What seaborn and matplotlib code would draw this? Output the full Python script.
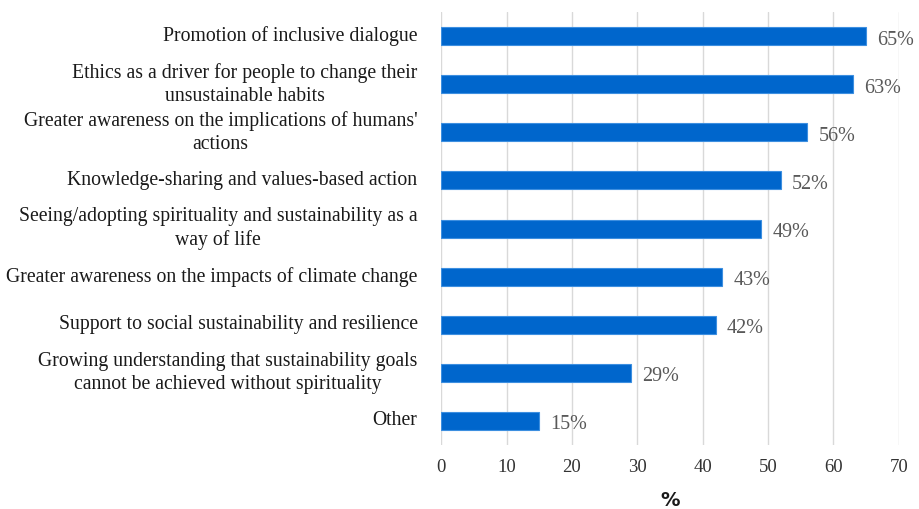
import matplotlib
matplotlib.use("Agg")
import matplotlib.pyplot as plt
import seaborn as sns
import pandas as pd

categories = [
    "Promotion of inclusive dialogue",
    "Ethics as a driver for people to change their\nunsustainable habits",
    "Greater awareness on the implications of humans'\nactions",
    "Knowledge-sharing and values-based action",
    "Seeing/adopting spirituality and sustainability as a\nway of life",
    "Greater awareness on the impacts of climate change",
    "Support to social sustainability and resilience",
    "Growing understanding that sustainability goals\ncannot be achieved without spirituality",
    "Other",
]
values = [65, 63, 56, 52, 49, 43, 42, 29, 15]
xticks = [0, 10, 20, 30, 40, 50, 60, 70]

df = pd.DataFrame({"cat": categories, "val": values})

sns.set_theme(style="white")
plt.rcParams["font.family"] = ["Liberation Serif", "DejaVu Serif"]

fig = plt.figure(figsize=(9.19, 5.09), dpi=100)
ax = fig.add_axes([0.480, 0.126, 0.498, 0.850])

sns.barplot(data=df, x="val", y="cat", orient="h", color="#0066CC",
            width=0.375, saturation=1, edgecolor="#3d8fe0", linewidth=0.8, ax=ax)

ax.set_xlim(0, 70)
ax.set_ylim(8.5, -0.5)
ax.set_xticks(xticks)
ax.set_xticklabels([str(t) for t in xticks], fontsize=13.5, color="#333333")
ax.set_yticklabels(categories, fontsize=14.2, color="#1a1a1a", ha="right",
                   va="center", multialignment="center", linespacing=1.32)
ax.tick_params(axis="y", length=0, pad=17)
ax.tick_params(axis="x", length=0, pad=10)
ax.grid(axis="x", color="#d9d9d9", linewidth=1)
ax.set_axisbelow(True)
for s in ax.spines.values():
    s.set_visible(False)

for i, v in enumerate(values):
    ax.annotate(f"{v}%", xy=(v, i), xytext=(8, -3), textcoords="offset points",
                ha="left", va="center", fontsize=14.5, color="#595959")

ax.set_ylabel("")
ax.set_xlabel("%", fontsize=14, fontweight="bold", family="DejaVu Sans",
              color="#1a1a1a", labelpad=11)

fig.savefig("out.png", dpi=100)
